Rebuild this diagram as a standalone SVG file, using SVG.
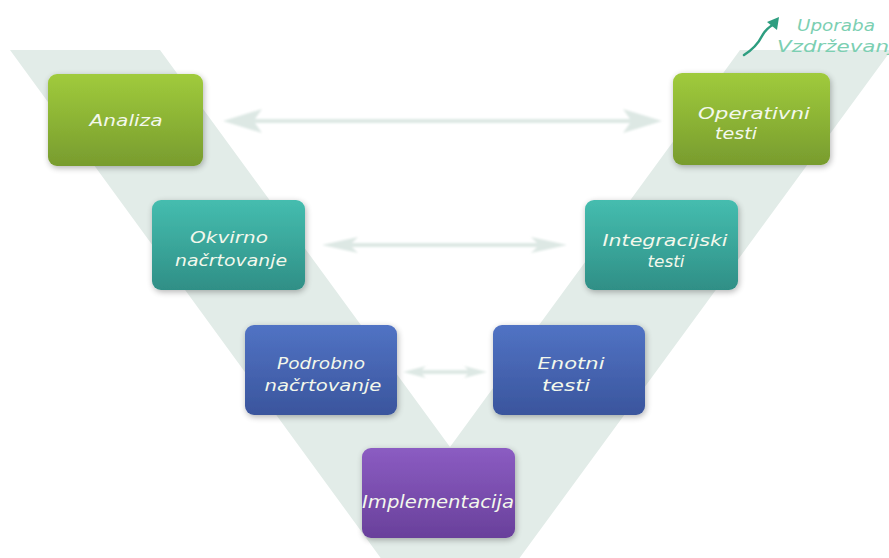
<svg xmlns="http://www.w3.org/2000/svg" width="889" height="558" viewBox="0 0 889 558">
  <defs>
    <linearGradient id="gGreen" x1="0" y1="0" x2="0" y2="1">
      <stop offset="0" stop-color="#a0cb3c"/>
      <stop offset="1" stop-color="#789c2e"/>
    </linearGradient>
    <linearGradient id="gTeal" x1="0" y1="0" x2="0" y2="1">
      <stop offset="0" stop-color="#45bdaf"/>
      <stop offset="1" stop-color="#2f8f86"/>
    </linearGradient>
    <linearGradient id="gBlue" x1="0" y1="0" x2="0" y2="1">
      <stop offset="0" stop-color="#5173c4"/>
      <stop offset="1" stop-color="#3a559d"/>
    </linearGradient>
    <linearGradient id="gPurple" x1="0" y1="0" x2="0" y2="1">
      <stop offset="0" stop-color="#8b5cc2"/>
      <stop offset="1" stop-color="#69409b"/>
    </linearGradient>
    <filter id="soft" x="-10%" y="-10%" width="120%" height="130%">
      <feGaussianBlur in="SourceAlpha" stdDeviation="3"/>
      <feOffset dx="1" dy="2"/>
      <feComponentTransfer><feFuncA type="linear" slope="0.3"/></feComponentTransfer>
      <feMerge><feMergeNode/><feMergeNode in="SourceGraphic"/></feMerge>
    </filter>
    <filter id="haze" x="-5%" y="-5%" width="110%" height="110%">
      <feGaussianBlur stdDeviation="1.2"/>
    </filter>
  </defs>
  <style>
    .box { stroke: none; filter: url(#soft); }
    .lbl { font-family: "DejaVu Sans", "Liberation Sans", sans-serif; font-style: italic; font-size: 15px; fill: #f3f8ec; text-anchor: middle; }
    .arr { fill: #dde8e4; filter: url(#haze); }
    .note { font-family: "DejaVu Sans", "Liberation Sans", sans-serif; font-style: italic; font-size: 16px; fill: #7ccfb2; }
  </style>

  <rect width="889" height="558" fill="#ffffff"/>

  <!-- V-shaped backdrop band -->
  <g id="v-band" fill="#e2ece8">
    <polygon points="10,50 160,50 450,447 740,50 890,50 890,52 450,653"/>
  </g>

  <!-- connectors (double-headed) -->
  <g id="connectors" class="arr">
    <path d="M223,121 L262,109 L255,119 L630,119 L623,109 L662,121 L623,133 L630,123 L255,123 L262,133 Z"/>
    <path d="M322,245 L358,237 L352,243 L537,243 L531,237 L567,245 L531,253 L537,247 L352,247 L358,253 Z"/>
    <path d="M403,372 L426,366 L422,370 L468,370 L464,366 L487,372 L464,378 L468,374 L422,374 L426,378 Z"/>
  </g>

  <g id="analiza">
    <rect class="box" x="48" y="74" width="155" height="92" rx="9" fill="url(#gGreen)"/>
    <text class="lbl" x="126" y="126" textLength="73" lengthAdjust="spacingAndGlyphs">Analiza</text>
  </g>

  <g id="operativni-testi">
    <rect class="box" x="673" y="73" width="157" height="92" rx="9" fill="url(#gGreen)"/>
    <text class="lbl" x="754" y="119" textLength="112" lengthAdjust="spacingAndGlyphs">Operativni</text>
    <text class="lbl" x="736" y="139" textLength="42" lengthAdjust="spacingAndGlyphs">testi</text>
  </g>

  <g id="okvirno-nacrtovanje">
    <rect class="box" x="152" y="200" width="153" height="90" rx="9" fill="url(#gTeal)"/>
    <text class="lbl" x="229" y="243" textLength="78" lengthAdjust="spacingAndGlyphs">Okvirno</text>
    <text class="lbl" x="231" y="266" textLength="112" lengthAdjust="spacingAndGlyphs">načrtovanje</text>
  </g>

  <g id="integracijski-testi">
    <rect class="box" x="585" y="200" width="153" height="90" rx="9" fill="url(#gTeal)"/>
    <text class="lbl" x="665" y="246" textLength="125" lengthAdjust="spacingAndGlyphs">Integracijski</text>
    <text class="lbl" x="666" y="267" textLength="37" lengthAdjust="spacingAndGlyphs">testi</text>
  </g>

  <g id="podrobno-nacrtovanje">
    <rect class="box" x="245" y="325" width="152" height="90" rx="9" fill="url(#gBlue)"/>
    <text class="lbl" x="321" y="369" textLength="88" lengthAdjust="spacingAndGlyphs">Podrobno</text>
    <text class="lbl" x="323" y="391" textLength="117" lengthAdjust="spacingAndGlyphs">načrtovanje</text>
  </g>

  <g id="enotni-testi">
    <rect class="box" x="493" y="325" width="152" height="90" rx="9" fill="url(#gBlue)"/>
    <text class="lbl" x="571" y="369" textLength="67" lengthAdjust="spacingAndGlyphs">Enotni</text>
    <text class="lbl" x="566" y="391" textLength="48" lengthAdjust="spacingAndGlyphs">testi</text>
  </g>

  <g id="implementacija">
    <rect class="box" x="362" y="448" width="153" height="90" rx="9" fill="url(#gPurple)"/>
    <text class="lbl" x="438" y="508" style="font-size:17px" textLength="152" lengthAdjust="spacingAndGlyphs">Implementacija</text>
  </g>

  <!-- usage / maintenance note at the top right -->
  <g id="uporaba">
    <path d="M744,55 C752,50 758,44 762,36 C765,30 769,27 774,24" fill="none" stroke="#2e9e80" stroke-width="2.5" stroke-linecap="round"/>
    <polygon points="779,17 777,30 767,22" fill="#2e9e80"/>
    <text class="note" x="797" y="31" textLength="78" lengthAdjust="spacingAndGlyphs">Uporaba</text>
    <text class="note" x="777" y="52" textLength="118" lengthAdjust="spacingAndGlyphs">Vzdrževanj</text>
  </g>
</svg>
